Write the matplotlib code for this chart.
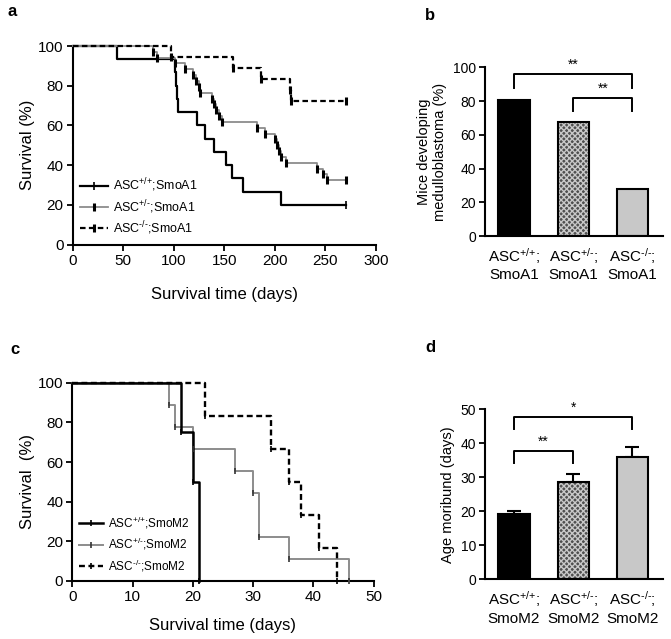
import numpy as np
import matplotlib
matplotlib.use('Agg')
import matplotlib.pyplot as plt
from matplotlib.lines import Line2D

plt.rcParams['font.family'] = ['Liberation Sans', 'DejaVu Sans']
plt.rcParams['mathtext.fontset'] = 'custom'
plt.rcParams['mathtext.rm'] = 'Liberation Sans'
plt.rcParams['mathtext.default'] = 'regular'

### Data
# (a) survival, SmoA1 -- event day, survival after event (%)
a_wt_t = [44, 101, 102, 103, 104, 123, 131, 140, 152, 158, 168, 206]
a_wt_s = [93.3, 86.7, 80.0, 73.3, 66.7, 60.0, 53.3, 46.7, 40.0, 33.3, 26.7, 20.0]
a_het_t = [79, 83, 101, 111, 119, 122, 125, 126, 138, 140, 142, 145, 148,
           182, 190, 200, 202, 204, 206, 211, 242, 248, 252]
a_het_s = [97.1, 94.1, 91.2, 88.2, 85.3, 82.4, 79.4, 76.5, 73.5, 70.6, 67.6, 64.7, 61.8,
           58.8, 55.9, 52.9, 50.0, 47.1, 44.1, 41.2, 38.2, 35.3, 32.4]
a_ko_t = [97, 159, 186, 215, 216]
a_ko_s = [94.4, 88.9, 83.3, 77.8, 72.2]
a_end = 270

# (c) survival, SmoM2
c_wt_t = [18, 20, 21]
c_wt_s = [75.0, 50.0, 0.0]
c_het_t = [16, 17, 20, 27, 30, 31, 36, 46]
c_het_s = [88.9, 77.8, 66.7, 55.6, 44.4, 22.2, 11.1, 0.0]
c_ko_t = [22, 33, 36, 38, 41, 44]
c_ko_s = [83.3, 66.7, 50.0, 33.3, 16.7, 0.0]

# (b) and (d) bars
WT, HET, KO = '$^{{+}/{+}}$', '$^{{+}/\u2010}$', '$^{\u2010/\u2010}$'
genotypes_a1 = ['ASC' + WT + ';\nSmoA1', 'ASC' + HET + ';\nSmoA1', 'ASC' + KO + ';\nSmoA1']
genotypes_m2 = ['ASC' + WT + ';\nSmoM2', 'ASC' + HET + ';\nSmoM2', 'ASC' + KO + ';\nSmoM2']
mb_pct = [80.6, 67.6, 27.8]
age_mean = [19.2, 28.5, 35.9]
age_sem = [1.0, 2.5, 2.9]

W, H = 671, 639
fig = plt.figure(figsize=(W / 100, H / 100), dpi=100)


def ax_px(left, right, top, bottom):
    return fig.add_axes([left / W, 1 - bottom / H, (right - left) / W, (bottom - top) / H])


def style(ax):
    for s in ['top', 'right']:
        ax.spines[s].set_visible(False)
    for s in ['left', 'bottom']:
        ax.spines[s].set_linewidth(1.5)
    ax.tick_params(width=1.3, length=4.5, labelsize=11, pad=2)


def km(ax, t, s, end, color, ls, lw, tick_idx, ms, mew, tick_color='black'):
    tt = [0] + list(t)
    ss = [100] + list(s)
    if end is not None:
        tt = tt + [end]
        ss = ss + [ss[-1]]
    ax.step(tt, ss, where='post', color=color, ls=ls, lw=lw, clip_on=False, zorder=3)
    for i in tick_idx:
        ax.plot(tt[i], ss[i], marker='|', color=tick_color, ms=ms, mew=mew,
                clip_on=False, zorder=4)


# ---- panel a
ax = ax_px(72.7, 376, 46, 244.5)
style(ax)
km(ax, a_wt_t, a_wt_s, a_end, 'black', '-', 1.6, [len(a_wt_t) + 1], 6, 1.2)
km(ax, a_het_t, a_het_s, a_end, '#8c8c8c', '-', 1.3,
   list(range(1, len(a_het_t) + 2)), 6, 2.2)
km(ax, a_ko_t, a_ko_s, a_end, 'black', (0, (2.5, 1.5)), 1.6,
   list(range(1, len(a_ko_t) + 2)), 6, 2.2)
ax.set_xlim(0, 300)
ax.set_ylim(0, 100)
ax.set_xticks(np.arange(0, 301, 50))
ax.set_yticks(np.arange(0, 101, 20))
ax.set_xlabel('Survival time (days)', fontsize=12, labelpad=14)
ax.set_ylabel('Survival (%)', fontsize=12, labelpad=2)
hd = [Line2D([], [], color='black', lw=1.6, marker='|', ms=6, mew=1.2),
      Line2D([], [], color='#8c8c8c', lw=1.3, marker='|', ms=6, mew=2.2, mec='black'),
      Line2D([], [], color='black', lw=1.6, ls=(0, (2.5, 1.5)), marker='|', ms=6, mew=2.2)]
ax.legend(hd, ['ASC' + WT + ';SmoA1', 'ASC' + HET + ';SmoA1', 'ASC' + KO + ';SmoA1'],
          loc='lower left', bbox_to_anchor=(0.0, 0.0), frameon=False, fontsize=9,
          handlelength=2.2, handletextpad=0.4, labelspacing=0.3, borderaxespad=0.2)
fig.text(8 / W, 1 - 12 / H, 'a', fontsize=12, fontweight='bold', va='center')

# ---- panel c
ax = ax_px(72.3, 373.5, 382.7, 581)
style(ax)
km(ax, c_het_t, c_het_s, None, '#8c8c8c', '-', 1.4,
   list(range(1, len(c_het_t) + 1)), 5, 1.2, tick_color='#333333')
km(ax, c_wt_t, c_wt_s, None, 'black', '-', 1.8, list(range(1, len(c_wt_t) + 1)), 5, 1.2)
km(ax, c_ko_t, c_ko_s, None, 'black', (0, (2.5, 1.5)), 1.7,
   list(range(1, len(c_ko_t) + 1)), 5, 1.2)
ax.set_xlim(0, 50)
ax.set_ylim(0, 100)
ax.set_xticks(np.arange(0, 51, 10))
ax.set_yticks(np.arange(0, 101, 20))
ax.set_xlabel('Survival time (days)', fontsize=12, labelpad=10)
ax.set_ylabel('Survival  (%)', fontsize=12, labelpad=2)
hd = [Line2D([], [], color='black', lw=1.8, marker='|', ms=5, mew=1.2),
      Line2D([], [], color='#8c8c8c', lw=1.4, marker='|', ms=5, mew=1.2, mec='#333333'),
      Line2D([], [], color='black', lw=1.7, ls=(0, (2.5, 1.5)), marker='|', ms=5, mew=1.2)]
ax.legend(hd, ['ASC' + WT + ';SmoM2', 'ASC' + HET + ';SmoM2', 'ASC' + KO + ';SmoM2'],
          loc='lower left', bbox_to_anchor=(0.0, 0.0), frameon=False, fontsize=8.5,
          handlelength=2.0, handletextpad=0.4, labelspacing=0.45, borderaxespad=0.2)
fig.text(10 / W, 1 - 350 / H, 'c', fontsize=12, fontweight='bold', va='center')


def bars(ax, vals, labels, err=None):
    x = np.arange(3)
    ax.bar(x[0], vals[0], 0.53, color='black', edgecolor='black', lw=1.5, zorder=2)
    ax.bar(x[1], vals[1], 0.53, color='#4f4f4f', edgecolor='#c8c8c8', hatch='xxxxxx',
           lw=0, zorder=2)
    ax.bar(x[1], vals[1], 0.53, color='none', edgecolor='black', lw=1.5, zorder=3)
    ax.bar(x[2], vals[2], 0.53, color='#c8c8c8', edgecolor='black', lw=1.5, zorder=2)
    if err is not None:
        ax.errorbar(x, vals, yerr=[np.zeros(3), err], fmt='none', ecolor='black',
                    elinewidth=1.5, capsize=5, capthick=1.5, zorder=1)
    ax.set_xlim(-0.49, 2.52)
    ax.set_xticks(x)
    ax.set_xticklabels(labels, fontsize=11, linespacing=1.25)
    ax.tick_params(axis='x', length=0, pad=7)


def bracket(ax, x0, x1, y, leg, txt):
    ax.plot([x0, x0, x1, x1], [y - leg, y, y, y - leg], color='black', lw=1.4,
            clip_on=False)
    ax.text((x0 + x1) / 2, y + leg * 0.15, txt, ha='center', va='bottom', fontsize=10)


# ---- panel b
ax = ax_px(485, 663.3, 67.3, 236)
style(ax)
bars(ax, mb_pct, genotypes_a1)
ax.set_ylim(0, 100)
ax.set_yticks(np.arange(0, 101, 20))
ax.tick_params(axis='y', labelsize=10)
ax.set_ylabel('Mice developing\nmedulloblastoma (%)', fontsize=10.5, labelpad=4)
bracket(ax, 0, 2, 96, 8, '**')
bracket(ax, 1, 2, 82, 8, '**')
fig.text(425 / W, 1 - 15 / H, 'b', fontsize=12, fontweight='bold', va='center')

# ---- panel d
ax = ax_px(485, 663.3, 409.3, 579.3)
style(ax)
bars(ax, age_mean, genotypes_m2, age_sem)
ax.set_ylim(0, 50)
ax.set_yticks(np.arange(0, 51, 10))
ax.tick_params(axis='y', labelsize=10)
ax.set_ylabel('Age moribund (days)', fontsize=10.5, labelpad=4)
bracket(ax, 0, 2, 47.8, 3.7, '*')
bracket(ax, 0, 1, 37.8, 3.7, '**')
fig.text(425 / W, 1 - 348 / H, 'd', fontsize=12, fontweight='bold', va='center')

fig.savefig('out.png', dpi=100)
